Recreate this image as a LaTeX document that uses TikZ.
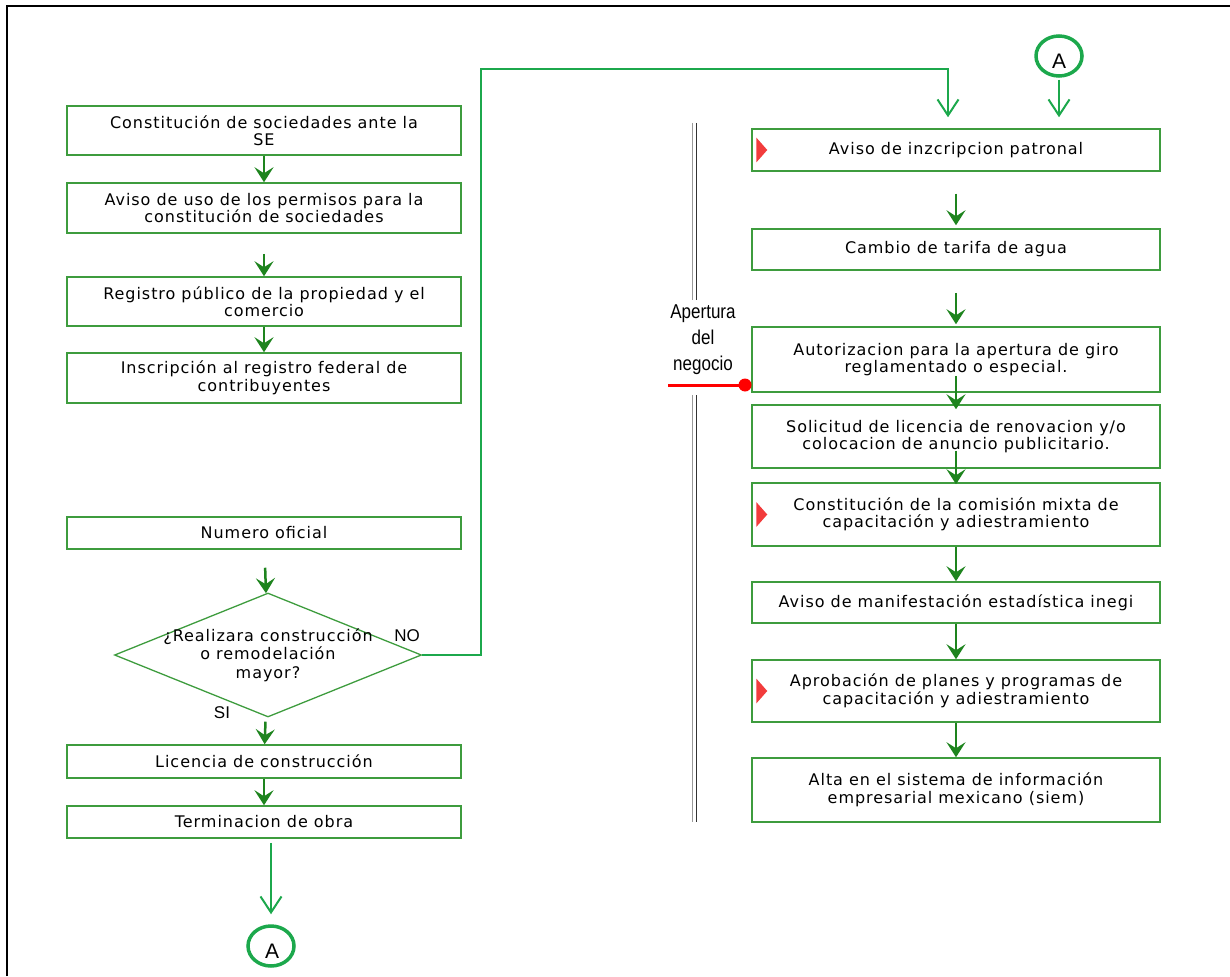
\documentclass[tikz,border=0pt]{standalone}
\usepackage{fontspec}
\setmainfont[LetterSpace=6]{DejaVu Sans}
\newfontfamily\arialfont{Liberation Sans}
\newfontfamily\narrowfont[FakeStretch=0.85]{Liberation Sans}
\usetikzlibrary{arrows.meta,shapes.geometric}
\definecolor{boxgreen}{HTML}{3E9C3E}
\definecolor{darkarrow}{HTML}{1E841E}
\definecolor{linegreen}{HTML}{1CA84C}
\definecolor{markred}{HTML}{F23C3C}
\begin{document}
\begin{tikzpicture}
    [
        x=1pt, y=-1pt,
        stepbox/.style = {draw=boxgreen, shape=rectangle, line width=1.5pt, align=center, inner sep=0pt, font=\fontsize{16}{17.5}\selectfont},
        leftbox/.style = {stepbox, minimum width=394pt},
        rightbox/.style = {stepbox, minimum width=408pt},
        decision/.style = {draw=boxgreen, shape=diamond, line width=1.3pt, minimum width=307pt, minimum height=124pt, inner sep=0pt},
        flowarrow/.style = {draw=darkarrow, line width=2.5pt, -{Stealth[length=15pt,width=19pt,inset=6pt]}},
        linkarrow/.style = {draw=linegreen, line width=2pt, -{Straight Barb[length=16pt,width=21pt]}},
        connector/.style = {draw=linegreen, shape=ellipse, line width=3.5pt, minimum width=46pt, minimum height=40pt, inner sep=0pt},
        answer/.style = {font=\arialfont\fontsize{17}{17}\selectfont},
    ]

    \useasboundingbox (0,0) rectangle (1230,976);
    \draw[line width=2pt] (7,976) -- (7,6) -- (1230,6);

    % left column
    \node[leftbox, minimum height=49pt] (sociedades) at (264,130.5) {Constitución de sociedades ante la\\SE};
    \node[leftbox, minimum height=50pt] (permisos) at (264,208) {Aviso de uso de los permisos para la\\constitución de sociedades};
    \node[leftbox, minimum height=49pt] (registro) at (264,301.5) {Registro público de la propiedad y el\\comercio};
    \node[leftbox, minimum height=50pt] (rfc) at (264,378) {Inscripción al registro federal de\\contribuyentes};
    \node[leftbox, minimum height=32pt] (numero) at (264,533) {Numero oficial};
    \node[decision] (obra) at (268,655) {};
    \node[align=center, font=\fontsize{16}{18.5}\selectfont] (obratext) at (268,655) {¿Realizara construcción\\o remodelación\\mayor?};
    \node[leftbox, minimum height=33pt] (licencia) at (264,761.5) {Licencia de construcción};
    \node[leftbox, minimum height=32pt] (terminacion) at (264,822) {Terminacion de obra};
    \node[connector] (abajo) at (271,946) {};
    \node[font=\arialfont\fontsize{21}{21}\selectfont] (abajotext) at (272,951) {A};

    \node[answer] (no) at (407,636) {NO};
    \node[answer] (si) at (222,713) {SI};

    \draw[flowarrow] (sociedades) -- (permisos);
    \draw[flowarrow, shorten <=20pt] (permisos) -- (registro);
    \draw[flowarrow] (registro) -- (rfc);
    \draw[flowarrow, shorten <=18pt] (numero) -- (obra);
    \draw[flowarrow, shorten <=5pt] (obra) -- (licencia);
    \draw[flowarrow] (licencia) -- (terminacion);
    \draw[linkarrow, shorten <=4pt, shorten >=10pt] (terminacion.south -| abajo) -- (abajo);

    % right column
    \node[rightbox, minimum height=42pt] (patronal) at (956,150) {Aviso de inzcripcion patronal};
    \node[rightbox, minimum height=41pt] (agua) at (956,249.5) {Cambio de tarifa de agua};
    \node[rightbox, minimum height=65pt] (giro) at (956,359.5) {Autorizacion para la apertura de giro\\reglamentado o especial.};
    \node[rightbox, minimum height=63pt] (anuncio) at (956,436.5) {Solicitud de licencia de renovacion y/o\\colocacion de anuncio publicitario.};
    \node[rightbox, minimum height=63pt] (comision) at (956,514.5) {Constitución de la comisión mixta de\\capacitación y adiestramiento};
    \node[rightbox, minimum height=41pt] (inegi) at (956,602.5) {Aviso de manifestación estadística inegi};
    \node[rightbox, minimum height=62pt] (planes) at (956,691) {Aprobación de planes y programas de\\capacitación y adiestramiento};
    \node[rightbox, minimum height=64pt] (siem) at (956,790) {Alta en el sistema de información\\empresarial mexicano (siem)};
    \node[connector] (arriba) at (1059,56) {};
    \node[font=\arialfont\fontsize{21}{21}\selectfont] (arribatext) at (1059,61) {A};

    \foreach \marked in {patronal, comision, planes}
        \fill[markred] (\marked.west) ++(5,-12.5) -- ++(0,25) -- ++(11,-12.5) -- cycle;

    \draw[flowarrow, shorten <=22pt, shorten >=3pt] (patronal) -- (agua);
    \draw[flowarrow, shorten <=22pt, shorten >=2pt] (agua) -- (giro);
    \draw[flowarrow] ([yshift=17pt]giro.south) -- ([yshift=-5pt]anuncio.north);
    \draw[flowarrow] ([yshift=18pt]anuncio.south) -- ([yshift=-2pt]comision.north);
    \draw[flowarrow] (comision) -- (inegi);
    \draw[flowarrow] (inegi) -- (planes);
    \draw[flowarrow] (planes) -- (siem);
    \draw[linkarrow, shorten <=2pt, shorten >=11pt] (arriba) -- (arriba |- patronal.north);

    % NO branch
    \coordinate (vuelta) at (481,69);
    \draw[linkarrow, shorten >=11pt] (obra.east) -| (vuelta) -| ([xshift=-8pt]patronal.north);

    % etapa
    \draw[gray!80, line width=1pt] (692,123) -- (692,300) (692,395) -- (692,822);
    \draw[black!80, line width=1pt] (696,123) -- (696,300) (696,395) -- (696,822);
    \node[align=center, font=\narrowfont\fontsize{20}{26}\selectfont] (etapa) at (703,340) {Apertura\\del\\negocio};
    \draw[red, line width=3pt] (668,385) -- (745,385);
    \fill[red] (745,385) circle (6.5);

\end{tikzpicture}
\end{document}
